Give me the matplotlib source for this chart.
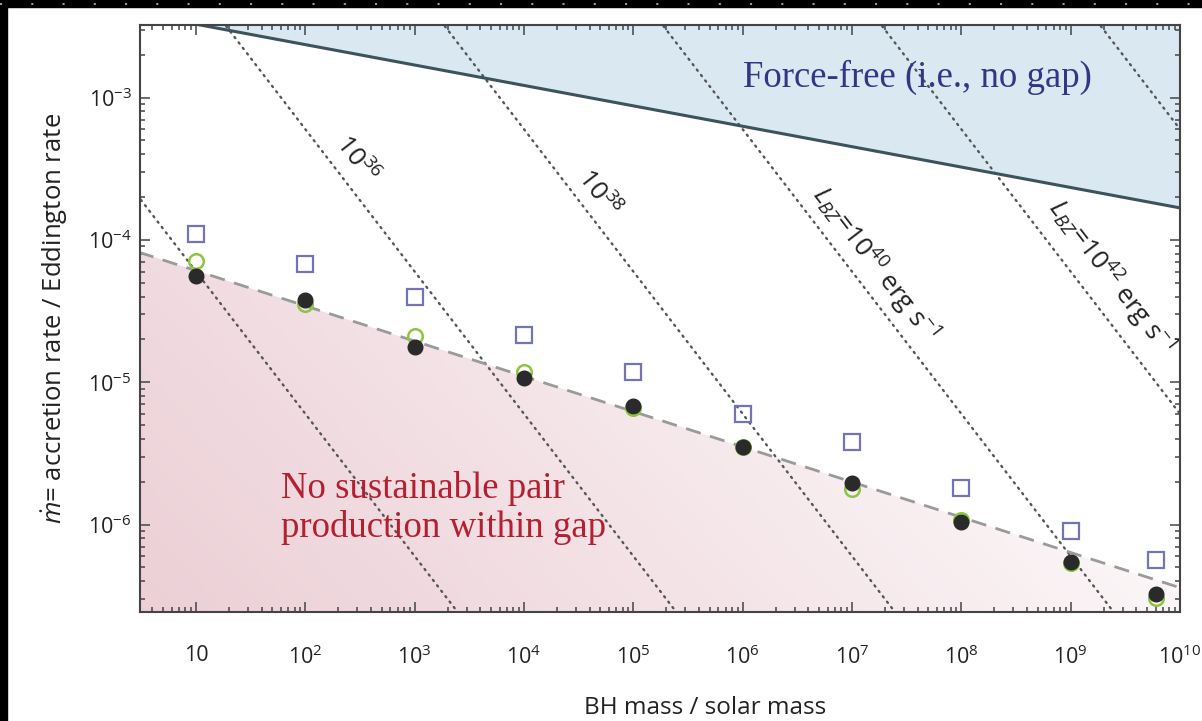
import numpy as np
import matplotlib
matplotlib.use("Agg")
import matplotlib.pyplot as plt
from matplotlib.patches import Polygon, Rectangle
from matplotlib.lines import Line2D
from matplotlib.ticker import FixedLocator, FixedFormatter, LogLocator, NullFormatter

plt.rcParams['font.family'] = ['Open Sans', 'DejaVu Sans']
plt.rcParams['mathtext.fontset'] = 'custom'
plt.rcParams['mathtext.rm'] = 'Open Sans'
plt.rcParams['mathtext.it'] = 'Open Sans:italic'
plt.rcParams['mathtext.bf'] = 'Open Sans:bold'

# Data
bh_mass = [10, 1e2, 1e3, 1e4, 1e5, 1e6, 1e7, 1e8, 1e9, 6e9]
mdot_filled = [5.6e-5, 3.8e-5, 1.77e-5, 1.07e-5, 6.8e-6, 3.5e-6, 1.96e-6, 1.05e-6, 5.5e-7, 3.25e-7]
mdot_green = [7.1e-5, 3.55e-5, 2.1e-5, 1.18e-5, 6.6e-6, 3.5e-6, 1.78e-6, 1.08e-6, 5.4e-7, 3.05e-7]
mdot_square = [1.1e-4, 6.8e-5, 4.0e-5, 2.15e-5, 1.18e-5, 6.0e-6, 3.8e-6, 1.8e-6, 9.0e-7, 5.6e-7]

# dashed fit line and force-free boundary (end points)
fit_m = [3.0, 1e10]
fit_mdot = [8.2e-5, 3.6e-7]
ff_m = [3.0, 1e10]
ff_mdot = [3.9e-3, 1.68e-4]

# constant L_BZ lines: exponent and the product M * mdot along the line
lbz_exp = [34, 36, 38, 40, 42, 44]
lbz_prod = [6e-4, 6e-2, 6.0, 6e2, 6e4, 6e6]
line_m = [1.0, 1e11]

xtick_vals = [10, 1e2, 1e3, 1e4, 1e5, 1e6, 1e7, 1e8, 1e9, 1e10]
xtick_labels = ['10', '$10^{2}$', '$10^{3}$', '$10^{4}$', '$10^{5}$', '$10^{6}$',
                '$10^{7}$', '$10^{8}$', '$10^{9}$', '$10^{10}$']
ytick_vals = [1e-6, 1e-5, 1e-4, 1e-3]
ytick_labels = ['$10^{-6}$', '$10^{-5}$', '$10^{-4}$', '$10^{-3}$']

XLIM = (3.075, 1.0e10)
YLIM = (2.43e-7, 3.24e-3)

fig = plt.figure(figsize=(12.02, 7.21), dpi=100)
ax = fig.add_axes([140 / 1202, 1 - 612 / 721, 1040 / 1202, 587 / 721])
ax.set_xscale('log')
ax.set_yscale('log')

# pink gradient under the dashed line
ny, nx = 200, 400
u, v = np.meshgrid(np.linspace(0, 1, nx), np.linspace(0, 1, ny))
t = np.clip(1 - (0.85 * u + 0.45 * v), 0, 1) ** 0.85
pink = np.array([0.925, 0.815, 0.84])
img = np.ones((ny, nx, 4))
for k in range(3):
    img[..., k] = 1 - t * (1 - pink[k])
im = ax.imshow(img, extent=[0, 1, 0, 1], transform=ax.transAxes, origin='lower',
               aspect='auto', zorder=0, interpolation='bilinear')
clip = Polygon([(fit_m[0], fit_mdot[0]), (fit_m[1], fit_mdot[1]), (fit_m[1], 1e-9), (fit_m[0], 1e-9)],
               closed=True, transform=ax.transData, facecolor='none', edgecolor='none')
ax.add_patch(clip)
im.set_clip_path(clip)

# force-free region
ax.fill_between(ff_m, ff_mdot, [1, 1], color='#dae8f2', zorder=0.5, lw=0)
ax.plot(ff_m, ff_mdot, color='#3c525c', lw=2.2, zorder=3)

# constant L_BZ dotted lines
for p in lbz_prod:
    ax.plot(line_m, [p / m for m in line_m], color='#555555', lw=1.7,
            ls=(0, (0.6, 2.3)), dash_capstyle='round', zorder=2)

ax.plot(fit_m, fit_mdot, color='#9a9a9a', lw=2, ls=(0, (5.5, 3.5)), zorder=2)

ax.plot(bh_mass, mdot_square, ls='none', marker='s', ms=11, mfc='none',
        mec='#7474b4', mew=1.6, zorder=4)
ax.plot(bh_mass, mdot_green, ls='none', marker='o', ms=10.5, mfc='none',
        mec='#8cc63f', mew=1.8, zorder=4)
ax.plot(bh_mass, mdot_filled, ls='none', marker='o', ms=10.5, mfc='#2a2a2a',
        mec='#2a2a2a', mew=1, zorder=5)

ax.set_xlim(*XLIM)
ax.set_ylim(*YLIM)

# angle of the L_BZ lines on screen
p1 = ax.transData.transform((1e3, 1e-4))
p2 = ax.transData.transform((1e4, 1e-5))
ang = np.degrees(np.arctan2(p2[1] - p1[1], p2[0] - p1[0]))

lbl_kw = dict(rotation=ang, rotation_mode='anchor', ha='center', va='center',
              fontsize=19, color='#222222', zorder=6)
ax.text(291, 3.65e-4, '$10^{36}$', **lbl_kw)
ax.text(4.7e4, 2.1e-4, '$10^{38}$', **lbl_kw)
ax.text(1.6e7, 6.8e-5, '$L_{BZ}$=$10^{40}$ erg s$^{-1}$', **lbl_kw)
ax.text(2.3e9, 5.5e-5, '$L_{BZ}$=$10^{42}$ erg s$^{-1}$', **lbl_kw)

ax.text(0.748, 0.91, 'Force-free (i.e., no gap)', transform=ax.transAxes,
        family='Liberation Serif', fontsize=26.5, color='#353585', ha='center', va='center', zorder=6)
ax.text(0.1356, 0.177, 'No sustainable pair\nproduction within gap', transform=ax.transAxes,
        family='Liberation Serif', fontsize=26.5, color='#b52030', ha='left', va='center',
        linespacing=1.12, zorder=6)

# axes styling
ax.xaxis.set_major_locator(FixedLocator(xtick_vals))
ax.xaxis.set_major_formatter(FixedFormatter(xtick_labels))
ax.yaxis.set_major_locator(FixedLocator(ytick_vals))
ax.yaxis.set_major_formatter(FixedFormatter(ytick_labels))
ax.xaxis.set_minor_locator(LogLocator(base=10, subs=np.arange(2, 10), numticks=30))
ax.yaxis.set_minor_locator(LogLocator(base=10, subs=np.arange(2, 10), numticks=30))
ax.xaxis.set_minor_formatter(NullFormatter())
ax.yaxis.set_minor_formatter(NullFormatter())

for s in ax.spines.values():
    s.set_color('#444444')
    s.set_linewidth(1.5)
    s.set_zorder(7)
ax.tick_params(which='both', direction='in', top=True, right=True, colors='#444444', width=1.1)
ax.tick_params(which='major', length=7)
ax.tick_params(which='minor', length=3.5)
ax.tick_params(axis='x', which='major', pad=24, labelsize=15.5, labelcolor='#222222')
ax.tick_params(axis='y', which='major', pad=6, labelsize=15.5, labelcolor='#222222')

ax.set_xlabel('BH mass / solar mass', fontsize=17.5, color='#222222')
ax.xaxis.set_label_coords(0.543, -0.143)
ax.set_ylabel(r'$\dot{m}$= accretion rate / Eddington rate', fontsize=18.5, color='#222222')
ax.yaxis.set_label_coords(-0.067, 0.5)

# black border strips of the scanned frame
fig.add_artist(Rectangle((0, 1 - 7 / 721), 1, 7 / 721, transform=fig.transFigure,
                         color='black', zorder=10))
fig.add_artist(Rectangle((0, 0), 7 / 1202, 1, transform=fig.transFigure,
                         color='black', zorder=10))
fig.add_artist(Line2D([0, 1], [1 - 3.5 / 721] * 2, transform=fig.transFigure,
                      color='#9a9a9a', lw=1.5, ls=(0, (1, 14)), zorder=11))

fig.savefig('out.png', dpi=100)
